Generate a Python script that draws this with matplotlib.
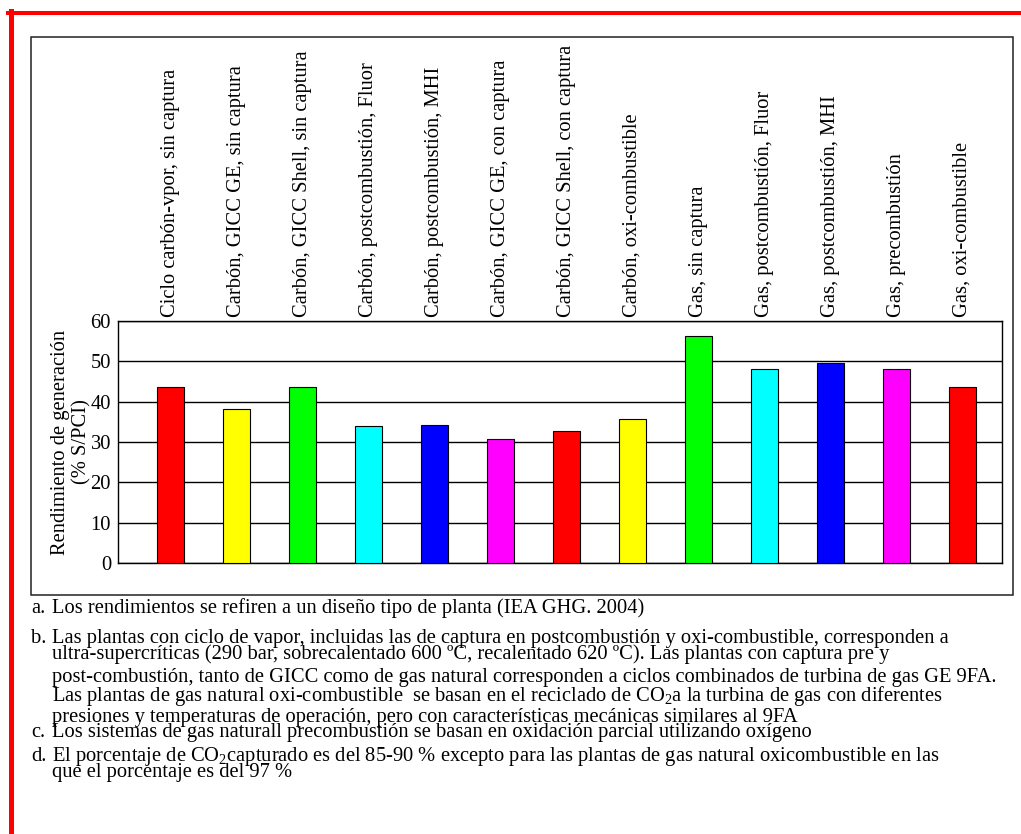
"""
Rendimiento de generacion por tipo de planta (IEA GHG 2004)
"""

import matplotlib
matplotlib.use('Agg')
import matplotlib.pyplot as plt
from matplotlib.patches import Rectangle
from matplotlib.lines import Line2D

categories = [
    'Ciclo carbón-vpor, sin captura',
    'Carbón, GICC GE, sin captura',
    'Carbón, GICC Shell, sin captura',
    'Carbón, postcombustión, Fluor',
    'Carbón, postcombustión, MHI',
    'Carbón, GICC GE, con captura',
    'Carbón, GICC Shell, con captura',
    'Carbón, oxi-combustible',
    'Gas, sin captura',
    'Gas, postcombustión, Fluor',
    'Gas, postcombustión, MHI',
    'Gas, precombustión',
    'Gas, oxi-combustible',
]
values = [43.6, 38.3, 43.6, 34.0, 34.2, 30.8, 32.8, 35.8, 56.2, 48.1, 49.7, 48.1, 43.6]
bar_colors = ['#ff0000', '#ffff00', '#00ff00', '#00ffff', '#0000ff', '#ff00ff', '#ff0000',
              '#ffff00', '#00ff00', '#00ffff', '#0000ff', '#ff00ff', '#ff0000']
y_ticks = [0, 10, 20, 30, 40, 50, 60]

note_marks = ['a.', 'b.', '', '', '', '', 'c.', 'd.', '']
note_lines = [
    'Los rendimientos se refiren a un diseño tipo de planta (IEA GHG. 2004)',
    'Las plantas con ciclo de vapor, incluidas las de captura en postcombustión y oxi-combustible, corresponden a',
    'ultra-supercríticas (290 bar, sobrecalentado 600 ºC, recalentado 620 ºC). Las plantas con captura pre y',
    'post-combustión, tanto de GICC como de gas natural corresponden a ciclos combinados de turbina de gas GE 9FA.',
    'Las plantas de gas natural oxi-combustible  se basan en el reciclado de CO$_2$a la turbina de gas con diferentes',
    'presiones y temperaturas de operación, pero con características mecánicas similares al 9FA',
    'Los sistemas de gas naturall precombustión se basan en oxidación parcial utilizando oxígeno',
    'El porcentaje de CO$_2$capturado es del 85-90 % excepto para las plantas de gas natural oxicombustible en las',
    'que el porcentaje es del 97 %',
]
# baselines of the note lines, in pixels from the top
note_y = [613, 643, 659, 682, 701, 722, 737, 761, 777]

W, H = 1021, 834
FONT = 'Liberation Serif'
FS = 14.8

plt.rcParams['font.family'] = FONT
plt.rcParams['mathtext.fontset'] = 'custom'
plt.rcParams['mathtext.rm'] = FONT
plt.rcParams['mathtext.it'] = FONT + ':italic'


def fx(x):
    return x / W


def fy(y):
    return 1 - y / H


fig = plt.figure(figsize=(W / 100, H / 100), dpi=100)

# red page border and outer frame
fig.add_artist(Line2D([fx(8), fx(W)], [fy(13), fy(13)], color='#ff0000', lw=2.9))
fig.add_artist(Line2D([fx(10.5), fx(10.5)], [fy(11), fy(H)], color='#ff0000', lw=3.6))
fig.add_artist(Rectangle((fx(31), fy(595)), fx(1013) - fx(31), fy(37) - fy(595),
                         fill=False, edgecolor='#222222', lw=1.1))

ax = fig.add_axes([fx(118), fy(563), fx(1002) - fx(118), fy(321) - fy(563)])
xs = list(range(len(categories)))
ax.bar(xs, values, width=0.41, color=bar_colors, edgecolor='black', linewidth=0.8, zorder=3)

ax.set_xlim(-0.79, 12.6)
ax.set_ylim(0, 60)
ax.set_yticks(y_ticks)
ax.yaxis.grid(True, color='black', lw=1.0)
ax.set_axisbelow(True)
for sp in ax.spines.values():
    sp.set_color('black')
    sp.set_linewidth(1.0)

ax.xaxis.tick_top()
ax.set_xticks(xs)
ax.set_xticklabels(categories, rotation=90, fontsize=FS, va='bottom', ha='center')
ax.tick_params(axis='x', length=0, pad=3)
ax.tick_params(axis='y', length=0, pad=5, labelsize=FS)

ax.set_ylabel('Rendimiento de generación\n(% S/PCI)', fontsize=FS, linespacing=1.15)
ax.yaxis.set_label_coords((91 - 118) / 884, 0.5)

# notes under the chart
for mark, line, y in zip(note_marks, note_lines, note_y):
    if mark:
        fig.text(fx(31), fy(y), mark, fontsize=FS, va='baseline', ha='left')
    fig.text(fx(52), fy(y), line, fontsize=FS, va='baseline', ha='left')

fig.savefig('out.png', dpi=100)
